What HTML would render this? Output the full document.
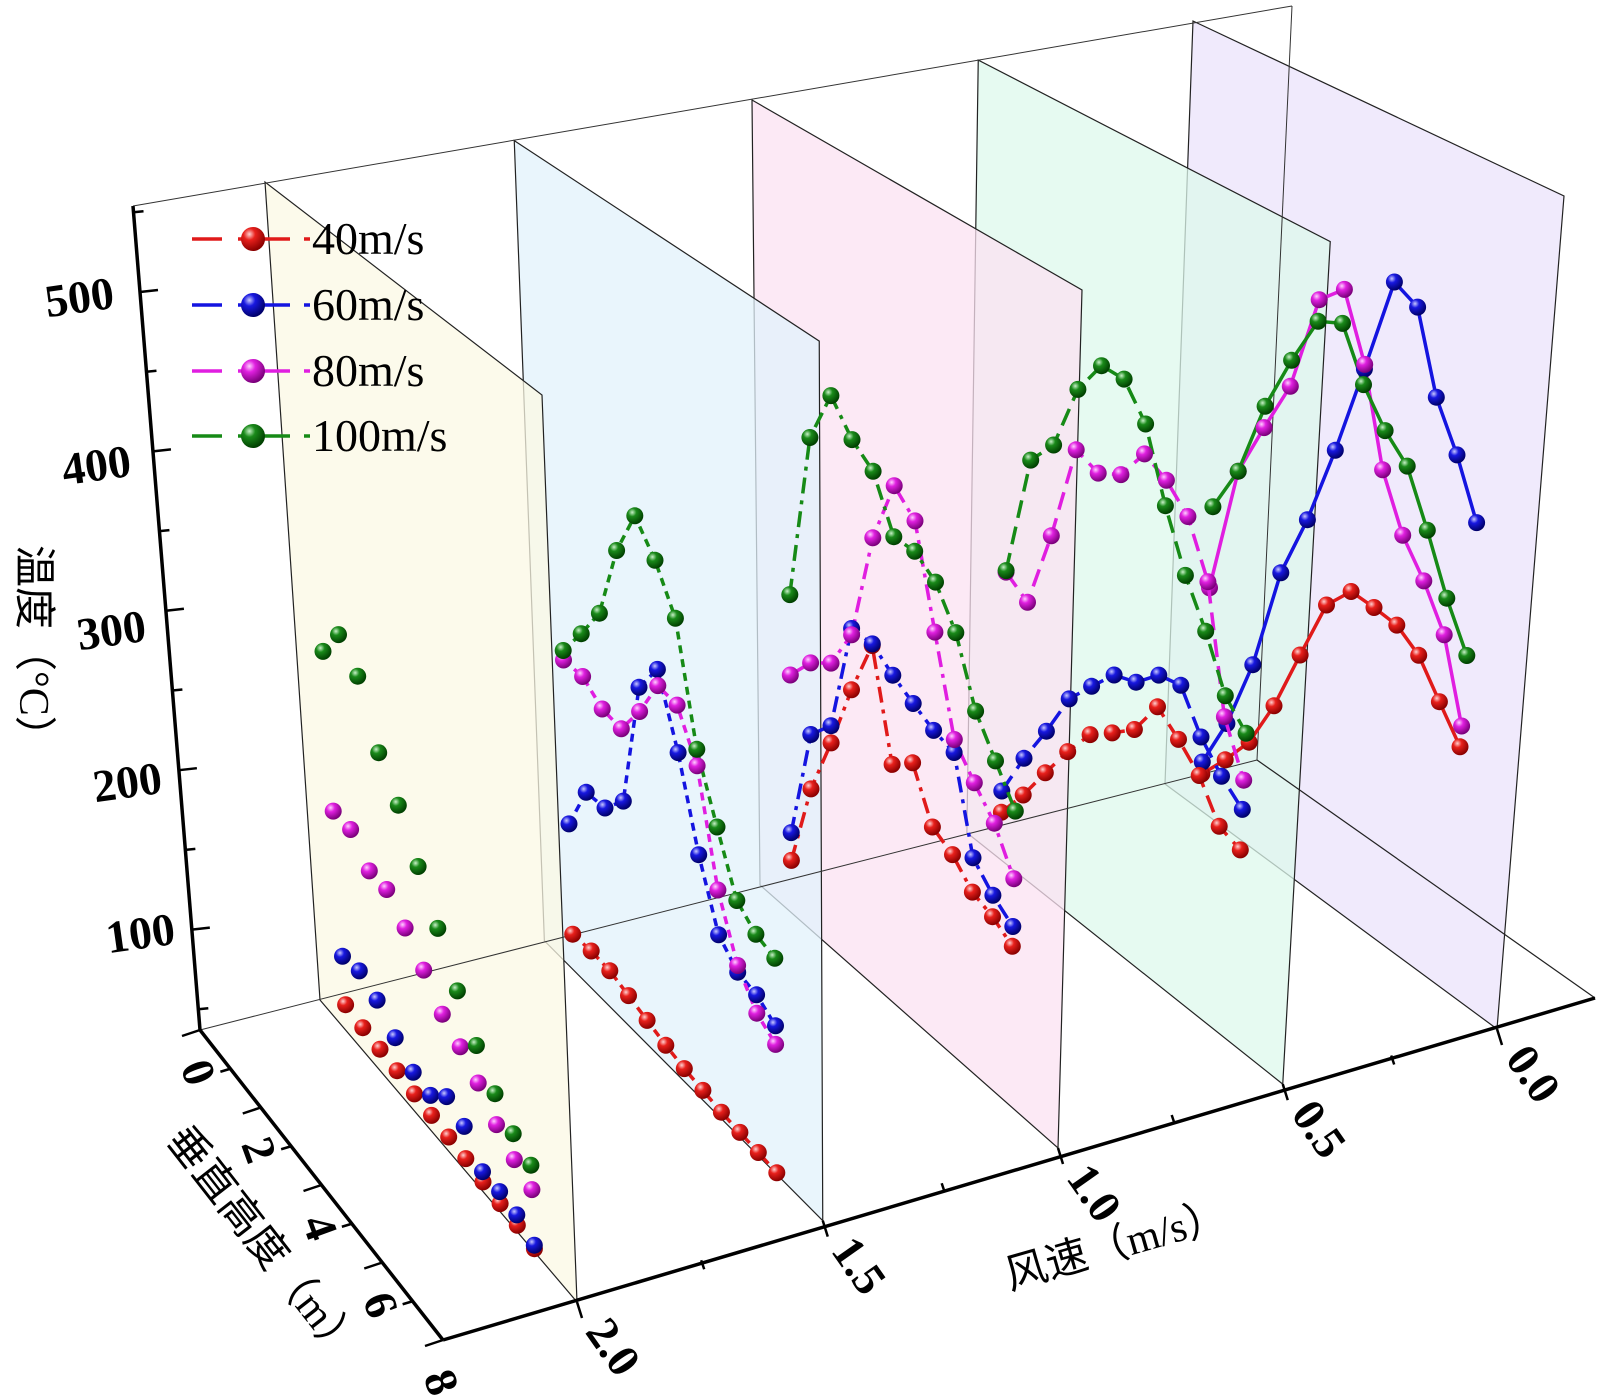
<!DOCTYPE html>
<html><head><meta charset="utf-8">
<style>
html,body{margin:0;padding:0;background:#fff;}
svg{display:block;}
.tk{font-family:"Liberation Serif","Noto Serif CJK SC",serif;font-weight:bold;font-size:46px;fill:#000;}
.lg{font-family:"Liberation Serif",serif;font-size:46px;fill:#000;}
.ti{font-family:"Liberation Serif","Noto Sans CJK SC",sans-serif;font-size:42px;fill:#000;}
</style></head>
<body>
<svg id="chart" width="1600" height="1399" viewBox="0 0 1600 1399" xmlns="http://www.w3.org/2000/svg">
<defs>
<radialGradient id="gr" cx="35%" cy="30%" r="70%"><stop offset="0" stop-color="#ffd0d0"/><stop offset="0.35" stop-color="#e8201c"/><stop offset="1" stop-color="#8a0000"/></radialGradient>
<radialGradient id="gb" cx="35%" cy="30%" r="70%"><stop offset="0" stop-color="#c8c8ff"/><stop offset="0.35" stop-color="#1818e0"/><stop offset="1" stop-color="#00006a"/></radialGradient>
<radialGradient id="gp" cx="35%" cy="30%" r="70%"><stop offset="0" stop-color="#ffd0ff"/><stop offset="0.35" stop-color="#e020e0"/><stop offset="1" stop-color="#7a007a"/></radialGradient>
<radialGradient id="gg" cx="35%" cy="30%" r="70%"><stop offset="0" stop-color="#c8f0c8"/><stop offset="0.35" stop-color="#1a8a1a"/><stop offset="1" stop-color="#004000"/></radialGradient>
</defs>
<g id="panels"></g>
<g id="box">
  <line x1="133" y1="206" x2="1292" y2="6" stroke="#333" stroke-width="1"/>
  <line x1="1292" y1="6" x2="1257" y2="760" stroke="#333" stroke-width="1"/>
  <line x1="200" y1="1030" x2="1257" y2="760" stroke="#333" stroke-width="1"/>
  <line x1="1257" y1="760" x2="1595" y2="998" stroke="#222" stroke-width="1.2"/>
  <line x1="133" y1="206" x2="200" y2="1030" stroke="#000" stroke-width="3.5"/>
  <line x1="200" y1="1030" x2="443" y2="1340" stroke="#000" stroke-width="3.5"/>
  <line x1="443" y1="1340" x2="1595" y2="998" stroke="#000" stroke-width="3.5"/>
</g>
<g id="ticks"></g>
<g id="series"></g>
<g id="legend"></g>
<text class="ti" transform="translate(20,545) rotate(90)">温度（°C）</text>
<text class="ti" transform="translate(165,1140) rotate(52)">垂直高度（m）</text>
<text class="ti" transform="translate(1010,1290) rotate(-16)">风速（m/s）</text>
</svg>
<script>
const winds = [2.0, 1.5, 1.0, 0.5, 0.0];
const heights = [0.85, 1.38, 1.91, 2.44, 2.97, 3.5, 4.03, 4.56, 5.09, 5.62, 6.15, 6.68];
const zTicks = [100, 200, 300, 400, 500];
const hTicks = [0, 2, 4, 6, 8];
const seriesNames = ["40m/s", "60m/s", "80m/s", "100m/s"];
const t40 = [
 [54,52,51,50,48,47,46,45,43,42,41,39],
 [60,61,60,56,52,48,45,43,41,40,39,38],
 [71,128,168,212,250,185,196,166,159,146,141,133],
 [68,90,115,139,160,171,183,207,196,183,161,156],
 [61,81,103,137,180,222,240,239,237,227,207,188]
];
const t60 = [
 [84,87,81,70,61,59,70,64,49,49,47,41],
 [130,161,162,177,258,279,238,186,148,136,133,125],
 [89,163,179,251,251,241,233,226,222,167,154,145],
 [82,114,142,173,191,208,213,227,230,207,192,181],
 [69,105,154,224,268,322,383,447,439,390,362,328]
];
const t80 = [
 [174,174,160,160,148,134,119,111,101,88,79,73],
 [234,234,224,222,243,269,267,240,175,140,122,114],
 [191,209,219,247,318,360,347,287,230,213,198,174],
 [226,216,269,334,328,336,358,350,336,304,229,199],
 [185,272,310,346,411,426,386,327,294,274,249,201]
];
const t100 = [
 [273,294,279,243,222,196,170,144,123,106,94,87],
 [240,261,284,333,364,346,320,250,213,179,169,165],
 [243,354,390,371,360,328,328,318,296,257,236,215],
 [227,309,328,373,397,397,377,334,299,273,242,228],
 [239,272,324,363,397,404,373,352,338,306,272,245]
];

const NS = "http://www.w3.org/2000/svg";
const TMIN = 37, TMAX = 550, HMAX = 8;
function quad(p0, p5, p1, u) { const b = 2*p1 + 2*p0 - 4*p5; const a = p1 - p0 - b; return p0 + a*u + b*u*u; }
function q2(A, B, C, u) { return [quad(A[0],B[0],C[0],u), quad(A[1],B[1],C[1],u)]; }
function lerp(a, b, t) { return [a[0]+(b[0]-a[0])*t, a[1]+(b[1]-a[1])*t]; }
const BB = [[320,1000],[760,885],[1165,784]];
const BF = [[577,1302],[1058,1148],[1497,1029]];
const TB = [[265,182],[752,100],[1193,21]];
const TF = [[542,395],[1082,290],[1564,196]];
function proj(w, h, T) {
  const u = (2 - w) / 2, v = h / HMAX, t = (T - TMIN) / (TMAX - TMIN);
  const b = lerp(q2(BB[0],BB[1],BB[2],u), q2(BF[0],BF[1],BF[2],u), v);
  const tp = lerp(q2(TB[0],TB[1],TB[2],u), q2(TF[0],TF[1],TF[2],u), v);
  return lerp(b, tp, t);
}
function mk(tag, attrs, parent) { const e = document.createElementNS(NS, tag); for (const k in attrs) e.setAttribute(k, attrs[k]); parent.appendChild(e); return e; }

const panelFills = ["#fbf8e4", "#e2f2fb", "#fbe2f2", "#def8ec", "#ebe3fb"];
const pg = document.getElementById("panels");
for (let k = winds.length - 1; k >= 0; k--) {
  const w = winds[k];
  const c = [proj(w,0,TMIN), proj(w,HMAX,TMIN), proj(w,HMAX,TMAX), proj(w,0,TMAX)];
  const p = mk("polygon", {points: c.map(q => q.join(",")).join(" "), fill: panelFills[k], "fill-opacity": 0.75, stroke: "#222", "stroke-width": 1.2}, pg);
  
  
}

const tg = document.getElementById("ticks");
function zPos(T) { const y = 1030 - (T - TMIN) * (1030 - 292) / (500 - TMIN); const x = 200 - (1030 - y) * 67 / 824; return [x, y]; }
for (let T = 50; T <= 550; T += 50) {
  const p = zPos(T); const major = T % 100 === 0;
  const l = mk("line", {x1: p[0], y1: p[1], x2: p[0] + (major ? 18 : 10), y2: p[1] - (major ? 2 : 1), stroke: "#000", "stroke-width": 2.5}, tg);
  
  
}
const zLabelPos = [[141,938],[128,787],[112,635],[97,470],[80,302]];
zTicks.forEach((T, i) => {
  const t = mk("text", {class: "tk", "text-anchor": "middle", "dominant-baseline": "middle", transform: `translate(${zLabelPos[i][0]},${zLabelPos[i][1]}) rotate(-8)`}, tg);
  t.textContent = T;
  
  
});
function hPos(h) { return [200 + (443-200)*h/8, 1030 + (1340-1030)*h/8]; }
for (let h = 0; h <= 8; h += 1) {
  const p = hPos(h); const major = h % 2 === 0;
  const l = mk("line", {x1: p[0], y1: p[1], x2: p[0] - (major ? 18 : 10), y2: p[1] + (major ? 6 : 3), stroke: "#000", "stroke-width": 2.5}, tg);
  
  
}
hTicks.forEach(h => {
  const p = hPos(h);
  const t = mk("text", {class: "tk", "font-size": "42", "text-anchor": "middle", "dominant-baseline": "middle", transform: `translate(${p[0]-6},${p[1]+44}) rotate(70)`}, tg);
  t.textContent = h;
  
  
});
for (let wv = 2.0; wv >= -0.001; wv -= 0.25) {
  const p = proj(wv, HMAX, TMIN); const major = Math.abs(wv*2 - Math.round(wv*2)) < 1e-6;
  const l = mk("line", {x1: p[0], y1: p[1], x2: p[0] + (major ? 5 : 3), y2: p[1] + (major ? 16 : 9), stroke: "#000", "stroke-width": 2.5}, tg);
  
  
}
winds.forEach(w => {
  const p = proj(w, HMAX, TMIN);
  const t = mk("text", {class: "tk", "font-size": "42", "dominant-baseline": "middle", transform: `translate(${p[0]+16},${p[1]+24}) rotate(55)`}, tg);
  t.textContent = w.toFixed(1);
  
  
});

const colors = ["#e01a1a", "#1414e0", "#e01ee0", "#168a16"];
const grads = ["url(#gr)", "url(#gb)", "url(#gp)", "url(#gg)"];
const dashes = [null, "8 6", "16 7 4 7", "18 9", "none"];
const allSeries = [t40, t60, t80, t100];
const sg = document.getElementById("series");
for (let k = winds.length - 1; k >= 0; k--) {
  const w = winds[k];
  const grp = mk("g", {}, sg);
  
  
  allSeries.forEach((ser, s) => {
    const pts = ser[k].map((T, i) => proj(w, heights[i], T));
    if (dashes[k] !== null) {
      const attrs = {points: pts.map(q => q[0].toFixed(1) + "," + q[1].toFixed(1)).join(" "), fill: "none", stroke: colors[s], "stroke-width": 3.5};
      if (dashes[k] !== "none") attrs["stroke-dasharray"] = dashes[k];
      const pl = mk("polyline", attrs, grp);
      
      
    }
  });
  allSeries.forEach((ser, s) => {
    ser[k].forEach((T, i) => {
      const q = proj(w, heights[i], T);
      const c = mk("circle", {cx: q[0].toFixed(1), cy: q[1].toFixed(1), r: 8.5, fill: grads[s]}, grp);
      
      
    });
  });
}

const lg = document.getElementById("legend");
const legY = [239, 305, 371, 436];
seriesNames.forEach((n, s) => {
  const y = legY[s];
  const e = mk("g", {}, lg);
  
  
  mk("line", {x1: 192, y1: y, x2: 222, y2: y, stroke: colors[s], "stroke-width": 3.5}, e);
  mk("line", {x1: 238, y1: y, x2: 290, y2: y, stroke: colors[s], "stroke-width": 3.5}, e);
  mk("line", {x1: 304, y1: y, x2: 310, y2: y, stroke: colors[s], "stroke-width": 3.5}, e);
  mk("circle", {cx: 253, cy: y, r: 12, fill: grads[s]}, e);
  const t = mk("text", {class: "lg", x: 312, y: y + 15}, e);
  t.textContent = n;
});
</script>
</body></html>
